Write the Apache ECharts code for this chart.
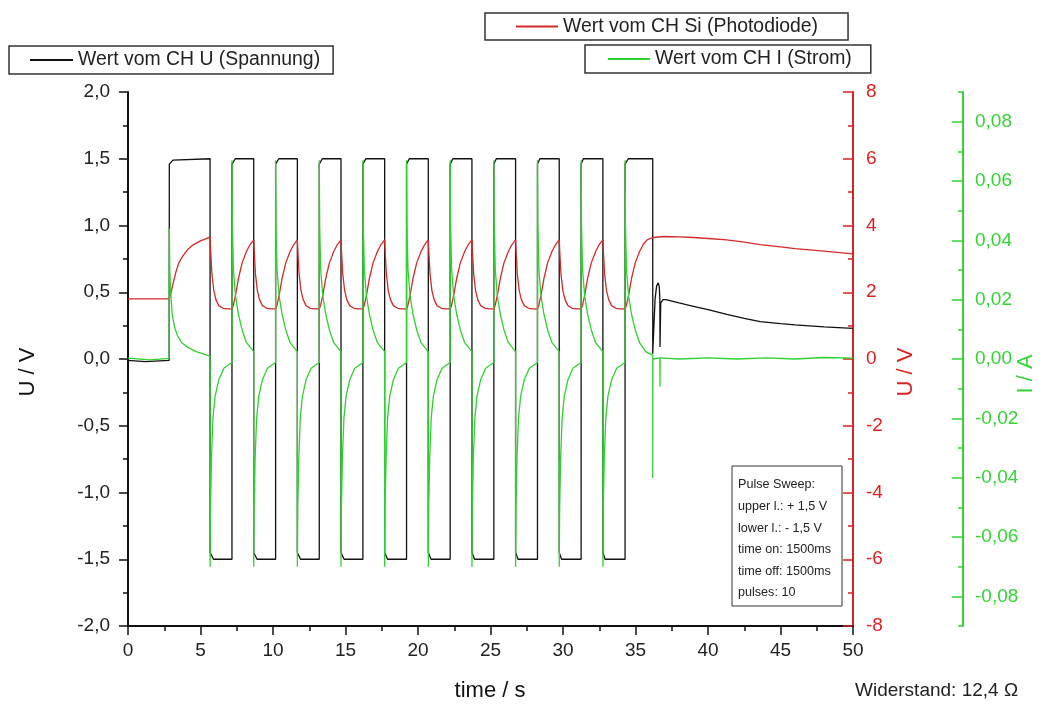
<!DOCTYPE html>
<html>
<head>
<meta charset="utf-8">
<script src="https://cdn.jsdelivr.net/npm/echarts@6.0.0/dist/echarts.min.js"></script>
<style>
  html, body { margin: 0; padding: 0; background: #ffffff; }
  #chart { width: 1061px; height: 706px; }
</style>
</head>
<body>
<div id="chart"></div>
<script>
// Pulse sweep measurement: voltage (CH U), photodiode (CH Si), current (CH I) over time in s.

const seriesNames = ['Wert vom CH U (Spannung)', 'Wert vom CH Si (Photodiode)', 'Wert vom CH I (Strom)'];

// CH U: applied voltage in V, [time s, U]
const spannungU = [
  [0, -0.01], [1.2, -0.02], [2.84, -0.01],
  [2.85, 1.46], [3.1, 1.49], [5.66, 1.5],
  [5.66, -1.45], [5.9, -1.5], [7.17, -1.5],
  [7.17, 1.46], [7.4, 1.5], [8.67, 1.5],
  [8.67, -1.45], [8.9, -1.5], [10.18, -1.5],
  [10.18, 1.46], [10.4, 1.5], [11.68, 1.5],
  [11.68, -1.45], [11.9, -1.5], [13.19, -1.5],
  [13.19, 1.46], [13.4, 1.5], [14.69, 1.5],
  [14.69, -1.45], [14.9, -1.5], [16.2, -1.5],
  [16.2, 1.46], [16.4, 1.5], [17.7, 1.5],
  [17.7, -1.45], [17.9, -1.5], [19.21, -1.5],
  [19.21, 1.46], [19.4, 1.5], [20.71, 1.5],
  [20.71, -1.45], [20.9, -1.5], [22.22, -1.5],
  [22.22, 1.46], [22.4, 1.5], [23.72, 1.5],
  [23.72, -1.45], [23.9, -1.5], [25.23, -1.5],
  [25.23, 1.46], [25.4, 1.5], [26.73, 1.5],
  [26.73, -1.45], [26.9, -1.5], [28.24, -1.5],
  [28.24, 1.46], [28.4, 1.5], [29.74, 1.5],
  [29.74, -1.45], [29.9, -1.5], [31.25, -1.5],
  [31.25, 1.46], [31.4, 1.5], [32.75, 1.5],
  [32.75, -1.45], [32.9, -1.5], [34.28, -1.5],
  [34.28, 1.46], [34.5, 1.5], [36.19, 1.5],
  [36.19, 0.04], [36.25, 0.2], [36.35, 0.45], [36.46, 0.55], [36.57, 0.57], [36.64, 0.54],
  [36.68, 0.45], [36.69, 0.09], [36.74, 0.42], [36.9, 0.445], [37.1, 0.445], [38.0, 0.42],
  [39.0, 0.395], [40.0, 0.37], [41.3, 0.335], [42.5, 0.305], [43.6, 0.28], [45.0, 0.265],
  [46.0, 0.255], [48.0, 0.24], [50.0, 0.23]
];

// CH Si: photodiode voltage in V, [time s, U]
const photodiodeSi = [
  [0, 1.8], [2.85, 1.8],
  [2.95, 1.95], [3.1, 2.25], [3.3, 2.6], [3.5, 2.88], [3.8, 3.1], [4.1, 3.27], [4.5, 3.42], [5.0, 3.54], [5.66, 3.65],
  [5.71, 3.15], [5.78, 2.6], [5.91, 2.07], [6.06, 1.78], [6.26, 1.6], [6.56, 1.52], [6.86, 1.5], [7.17, 1.5],
  [7.27, 1.62], [7.42, 1.92], [7.62, 2.42], [7.87, 2.88], [8.17, 3.22], [8.42, 3.43], [8.67, 3.57],
  [8.72, 3.1], [8.79, 2.55], [8.92, 2.05], [9.07, 1.78], [9.27, 1.6], [9.57, 1.52], [9.87, 1.5], [10.18, 1.5],
  [10.28, 1.62], [10.43, 1.92], [10.63, 2.42], [10.88, 2.88], [11.18, 3.22], [11.43, 3.43], [11.68, 3.57],
  [11.73, 3.1], [11.8, 2.55], [11.93, 2.05], [12.08, 1.78], [12.28, 1.6], [12.58, 1.52], [12.88, 1.5], [13.19, 1.5],
  [13.29, 1.62], [13.44, 1.92], [13.64, 2.42], [13.89, 2.88], [14.19, 3.22], [14.44, 3.43], [14.69, 3.57],
  [14.74, 3.1], [14.81, 2.55], [14.94, 2.05], [15.09, 1.78], [15.29, 1.6], [15.59, 1.52], [15.89, 1.5], [16.2, 1.5],
  [16.3, 1.62], [16.45, 1.92], [16.65, 2.42], [16.9, 2.88], [17.2, 3.22], [17.45, 3.43], [17.7, 3.57],
  [17.75, 3.1], [17.82, 2.55], [17.95, 2.05], [18.1, 1.78], [18.3, 1.6], [18.6, 1.52], [18.9, 1.5], [19.21, 1.5],
  [19.31, 1.62], [19.46, 1.92], [19.66, 2.42], [19.91, 2.88], [20.21, 3.22], [20.46, 3.43], [20.71, 3.57],
  [20.76, 3.1], [20.83, 2.55], [20.96, 2.05], [21.11, 1.78], [21.31, 1.6], [21.61, 1.52], [21.91, 1.5], [22.22, 1.5],
  [22.32, 1.62], [22.47, 1.92], [22.67, 2.42], [22.92, 2.88], [23.22, 3.22], [23.47, 3.43], [23.72, 3.57],
  [23.77, 3.1], [23.84, 2.55], [23.97, 2.05], [24.12, 1.78], [24.32, 1.6], [24.62, 1.52], [24.92, 1.5], [25.23, 1.5],
  [25.33, 1.62], [25.48, 1.92], [25.68, 2.42], [25.93, 2.88], [26.23, 3.22], [26.48, 3.43], [26.73, 3.57],
  [26.78, 3.1], [26.85, 2.55], [26.98, 2.05], [27.13, 1.78], [27.33, 1.6], [27.63, 1.52], [27.93, 1.5], [28.24, 1.5],
  [28.34, 1.62], [28.49, 1.92], [28.69, 2.42], [28.94, 2.88], [29.24, 3.22], [29.49, 3.43], [29.74, 3.57],
  [29.79, 3.1], [29.86, 2.55], [29.99, 2.05], [30.14, 1.78], [30.34, 1.6], [30.64, 1.52], [30.94, 1.5], [31.25, 1.5],
  [31.35, 1.62], [31.5, 1.92], [31.7, 2.42], [31.95, 2.88], [32.25, 3.22], [32.5, 3.43], [32.75, 3.57],
  [32.8, 3.1], [32.87, 2.55], [33.0, 2.05], [33.15, 1.78], [33.35, 1.6], [33.65, 1.52], [33.95, 1.5], [34.28, 1.5],
  [34.38, 1.62], [34.53, 1.92], [34.73, 2.42], [34.98, 2.88], [35.28, 3.22], [35.53, 3.43], [35.8, 3.57], [36.19, 3.64],
  [37.0, 3.67], [38.0, 3.66], [39.0, 3.64], [40.0, 3.61], [41.3, 3.57], [42.5, 3.5], [43.6, 3.43],
  [45.0, 3.36], [46.0, 3.31], [48.0, 3.23], [50.0, 3.15]
];

// CH I: current in A, [time s, I]
const stromI = [
  [0, 0.0003], [1.5, -0.0003], [2.84, 0.0002],
  [2.85, 0.044], [2.88, 0.03], [2.95, 0.022], [3.05, 0.015], [3.2, 0.011], [3.4, 0.008], [3.7, 0.0055], [4.1, 0.004], [4.7, 0.0025], [5.66, 0.001],
  [5.66, -0.07], [5.69, -0.05], [5.76, -0.033], [5.86, -0.02], [6.01, -0.0125], [6.26, -0.007], [6.61, -0.0031], [7.17, -0.0012],
  [7.17, 0.067], [7.2, 0.045], [7.27, 0.03], [7.42, 0.021], [7.62, 0.015], [7.87, 0.0098], [8.17, 0.0055], [8.67, 0.0025],
  [8.67, -0.07], [8.7, -0.05], [8.77, -0.033], [8.87, -0.02], [9.02, -0.0125], [9.27, -0.007], [9.62, -0.0031], [10.18, -0.0012],
  [10.18, 0.067], [10.21, 0.045], [10.28, 0.03], [10.43, 0.021], [10.63, 0.015], [10.88, 0.0098], [11.18, 0.0055], [11.68, 0.0025],
  [11.68, -0.07], [11.71, -0.05], [11.78, -0.033], [11.88, -0.02], [12.03, -0.0125], [12.28, -0.007], [12.63, -0.0031], [13.19, -0.0012],
  [13.19, 0.067], [13.22, 0.045], [13.29, 0.03], [13.44, 0.021], [13.64, 0.015], [13.89, 0.0098], [14.19, 0.0055], [14.69, 0.0025],
  [14.69, -0.07], [14.72, -0.05], [14.79, -0.033], [14.89, -0.02], [15.04, -0.0125], [15.29, -0.007], [15.64, -0.0031], [16.2, -0.0012],
  [16.2, 0.067], [16.23, 0.045], [16.3, 0.03], [16.45, 0.021], [16.65, 0.015], [16.9, 0.0098], [17.2, 0.0055], [17.7, 0.0025],
  [17.7, -0.07], [17.73, -0.05], [17.8, -0.033], [17.9, -0.02], [18.05, -0.0125], [18.3, -0.007], [18.65, -0.0031], [19.21, -0.0012],
  [19.21, 0.067], [19.24, 0.045], [19.31, 0.03], [19.46, 0.021], [19.66, 0.015], [19.91, 0.0098], [20.21, 0.0055], [20.71, 0.0025],
  [20.71, -0.07], [20.74, -0.05], [20.81, -0.033], [20.91, -0.02], [21.06, -0.0125], [21.31, -0.007], [21.66, -0.0031], [22.22, -0.0012],
  [22.22, 0.067], [22.25, 0.045], [22.32, 0.03], [22.47, 0.021], [22.67, 0.015], [22.92, 0.0098], [23.22, 0.0055], [23.72, 0.0025],
  [23.72, -0.07], [23.75, -0.05], [23.82, -0.033], [23.92, -0.02], [24.07, -0.0125], [24.32, -0.007], [24.67, -0.0031], [25.23, -0.0012],
  [25.23, 0.067], [25.26, 0.045], [25.33, 0.03], [25.48, 0.021], [25.68, 0.015], [25.93, 0.0098], [26.23, 0.0055], [26.73, 0.0025],
  [26.73, -0.07], [26.76, -0.05], [26.83, -0.033], [26.93, -0.02], [27.08, -0.0125], [27.33, -0.007], [27.68, -0.0031], [28.24, -0.0012],
  [28.24, 0.067], [28.27, 0.045], [28.34, 0.03], [28.49, 0.021], [28.69, 0.015], [28.94, 0.0098], [29.24, 0.0055], [29.74, 0.0025],
  [29.74, -0.07], [29.77, -0.05], [29.84, -0.033], [29.94, -0.02], [30.09, -0.0125], [30.34, -0.007], [30.69, -0.0031], [31.25, -0.0012],
  [31.25, 0.067], [31.28, 0.045], [31.35, 0.03], [31.5, 0.021], [31.7, 0.015], [31.95, 0.0098], [32.25, 0.0055], [32.75, 0.0025],
  [32.75, -0.07], [32.78, -0.05], [32.85, -0.033], [32.95, -0.02], [33.1, -0.0125], [33.35, -0.007], [33.7, -0.0031], [34.28, -0.0012],
  [34.28, 0.067], [34.31, 0.045], [34.38, 0.03], [34.53, 0.021], [34.73, 0.015], [34.98, 0.0098], [35.28, 0.0055], [35.7, 0.0025], [36.19, 0.0013],
  [36.19, -0.04], [36.2, 0.0], [36.22, 0.0006], [36.68, 0.0004], [36.69, -0.0093], [36.7, 0.0004],
  [38, 0.0], [40, 0.0004], [42, 0.0], [44, 0.0004], [46, 0.0], [48, 0.0005], [50, 0.0003]
];

// Text of the settings box
const sweepInfo = ['Pulse Sweep:', 'upper l.: + 1,5 V', 'lower l.: - 1,5 V', 'time on: 1500ms', 'time off: 1500ms', 'pulses: 10'];

const FONT = '"Liberation Sans", Arial, sans-serif';
const BLACK = '#111111';
const RED = '#dd2222';
const RED_LINE = '#d42a2a';
const GREEN = '#33d433';
const GREEN_LINE = '#2ed22e';
const TICK_FONT = 19;

const comma = (v, d) => (Math.abs(v) < 1e-9 ? 0 : v).toFixed(d).replace('.', ',');

const chart = echarts.init(document.getElementById('chart'), null, { renderer: 'canvas' });

const legendBase = {
  orient: 'horizontal',
  icon: 'rect',
  itemHeight: 2,
  itemWidth: 42,
  selectedMode: false,
  borderColor: '#333333',
  borderWidth: 1.5,
  borderRadius: 0,
  backgroundColor: '#ffffff',
  textStyle: { fontSize: 19.4, color: '#222222', fontFamily: FONT, lineHeight: 20 }
};

const tickStyle = (c) => ({ color: c, width: 1.5 });

const infoTexts = sweepInfo.map((t, i) => ({
  type: 'text',
  x: 738,
  y: 485 + i * 21.6,
  style: { text: t, font: '12.6px ' + FONT, fill: '#222222', textAlign: 'left', textVerticalAlign: 'middle' },
  z: 101
}));

chart.setOption({
  animation: false,
  backgroundColor: '#ffffff',
  grid: [
    { left: 128, right: 208, top: 92, bottom: 80 },
    { left: 128, right: 208, top: 121.67, bottom: 109.67 }
  ],
  xAxis: [
    {
      gridIndex: 0, type: 'value', min: 0, max: 50, interval: 5,
      axisLine: { show: true, onZero: false, lineStyle: { color: BLACK, width: 2 } },
      axisTick: { show: true, length: 9, lineStyle: tickStyle(BLACK) },
      minorTick: { show: true, splitNumber: 2, length: 5, lineStyle: tickStyle(BLACK) },
      splitLine: { show: false },
      axisLabel: { fontSize: TICK_FONT, color: '#222222', fontFamily: FONT, margin: 15 }
    },
    { gridIndex: 1, type: 'value', min: 0, max: 50, show: false }
  ],
  yAxis: [
    {
      gridIndex: 0, type: 'value', position: 'left', min: -2, max: 2, interval: 0.5,
      axisLine: { show: true, onZero: false, lineStyle: { color: BLACK, width: 2 } },
      axisTick: { show: true, length: 9, lineStyle: tickStyle(BLACK) },
      minorTick: { show: true, splitNumber: 2, length: 5, lineStyle: tickStyle(BLACK) },
      splitLine: { show: false },
      axisLabel: { formatter: (v) => comma(v, 1), fontSize: TICK_FONT, color: '#222222', fontFamily: FONT, margin: 18 }
    },
    {
      gridIndex: 0, type: 'value', position: 'right', min: -8, max: 8, interval: 2,
      axisLine: { show: true, onZero: false, lineStyle: { color: RED, width: 2 } },
      axisTick: { show: true, inside: true, length: 10, lineStyle: tickStyle(RED) },
      minorTick: { show: true, splitNumber: 2, length: 5, lineStyle: tickStyle(RED) },
      splitLine: { show: false },
      axisLabel: { fontSize: TICK_FONT, color: RED, fontFamily: FONT, margin: 13 }
    },
    {
      gridIndex: 0, type: 'value', position: 'right', offset: 110, min: -0.09, max: 0.09, interval: 0.01,
      axisLine: { show: true, onZero: false, lineStyle: { color: GREEN, width: 2 } },
      axisTick: { show: true, inside: true, length: 5, lineStyle: tickStyle(GREEN) },
      splitLine: { show: false },
      axisLabel: { show: false }
    },
    {
      gridIndex: 1, type: 'value', position: 'right', offset: 110, min: -0.08, max: 0.08, interval: 0.02,
      axisLine: { show: false, onZero: false },
      axisTick: { show: true, inside: true, length: 11, lineStyle: tickStyle(GREEN) },
      splitLine: { show: false },
      axisLabel: { formatter: (v) => comma(v, 2), fontSize: TICK_FONT, color: GREEN, fontFamily: FONT, margin: 12 }
    }
  ],
  legend: [
    Object.assign({}, legendBase, { data: [seriesNames[0]], left: 9, top: 46, itemWidth: 43, padding: [4, 13, 4, 21] }),
    Object.assign({}, legendBase, { data: [seriesNames[1]], left: 485, top: 13, padding: [3.5, 30, 3.5, 31] }),
    Object.assign({}, legendBase, { data: [seriesNames[2]], left: 585, top: 45, padding: [4, 19, 4, 23] })
  ],
  series: [
    {
      name: seriesNames[0], type: 'line', xAxisIndex: 0, yAxisIndex: 0, data: spannungU,
      symbol: 'none', color: BLACK, lineStyle: { color: BLACK, width: 1.3 }, z: 2
    },
    {
      name: seriesNames[1], type: 'line', xAxisIndex: 0, yAxisIndex: 1, data: photodiodeSi,
      symbol: 'none', color: RED_LINE, lineStyle: { color: RED_LINE, width: 1.3 }, z: 3
    },
    {
      name: seriesNames[2], type: 'line', xAxisIndex: 0, yAxisIndex: 2, data: stromI,
      symbol: 'none', color: GREEN_LINE, lineStyle: { color: GREEN_LINE, width: 1.3 }, z: 4
    }
  ],
  graphic: [
    { type: 'text', x: 28, y: 372, rotation: Math.PI / 2,
      style: { text: 'U / V', font: '22px ' + FONT, fill: '#111111', textAlign: 'center', textVerticalAlign: 'middle' } },
    { type: 'text', x: 906, y: 372, rotation: Math.PI / 2,
      style: { text: 'U / V', font: '22px ' + FONT, fill: RED, textAlign: 'center', textVerticalAlign: 'middle' } },
    { type: 'text', x: 1026, y: 374, rotation: Math.PI / 2,
      style: { text: 'I / A', font: '22px ' + FONT, fill: GREEN, textAlign: 'center', textVerticalAlign: 'middle' } },
    { type: 'text', x: 490, y: 691,
      style: { text: 'time / s', font: '22px ' + FONT, fill: '#111111', textAlign: 'center', textVerticalAlign: 'middle' } },
    { type: 'text', x: 855, y: 691,
      style: { text: 'Widerstand: 12,4 \u03A9', font: '19px ' + FONT, fill: '#222222', textAlign: 'left', textVerticalAlign: 'middle' } },
    { type: 'rect', shape: { x: 732, y: 466, width: 110, height: 140 },
      style: { fill: '#ffffff', stroke: '#333333', lineWidth: 1 }, z: 100 }
  ].concat(infoTexts)
});
</script>
</body>
</html>
